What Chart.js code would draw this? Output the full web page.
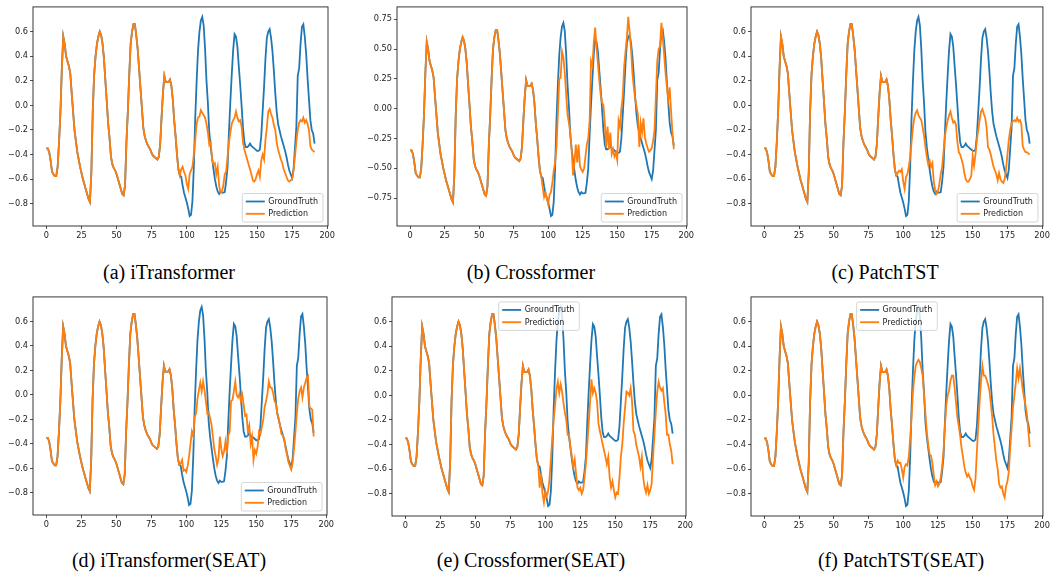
<!DOCTYPE html>
<html>
<head>
<meta charset="utf-8">
<script src="https://cdn.jsdelivr.net/npm/chart.js@4.4.0/dist/chart.umd.min.js"></script>
<style>
  body { margin: 0; background: #fff; width: 1052px; height: 578px; overflow: hidden; position: relative; }
  canvas { position: absolute; }
  .cap { position: absolute; font-family: "Liberation Serif", "Times New Roman", serif; font-size: 20px;
         line-height: 20px; color: #000; white-space: nowrap; transform: translateX(-50%); }
</style>
</head>
<body>
<script>
// shared look-back window (steps 0..95), identical for both lines
const history = [
  -0.35, -0.35, -0.38, -0.45, -0.54, -0.56, -0.575, -0.575, -0.5, -0.3,
  -0.05, 0.3, 0.56, 0.5, 0.4, 0.36, 0.32, 0.26, 0.1, -0.05,
  -0.2, -0.29, -0.38, -0.44, -0.5, -0.55, -0.6, -0.64, -0.68, -0.72,
  -0.76, -0.785, -0.55, -0.05, 0.25, 0.4, 0.5, 0.56, 0.6, 0.57,
  0.5, 0.38, 0.2, 0.03, -0.15, -0.27, -0.42, -0.48, -0.51, -0.53,
  -0.56, -0.6, -0.64, -0.68, -0.72, -0.73, -0.65, -0.3, -0.05, 0.25,
  0.5, 0.6, 0.66, 0.66, 0.57, 0.46, 0.3, 0.14, -0.02, -0.18,
  -0.25, -0.29, -0.32, -0.34, -0.36, -0.39, -0.41, -0.42, -0.43, -0.44,
  -0.42, -0.32, -0.1, 0.1, 0.24, 0.19, 0.19, 0.19, 0.21, 0.16,
  0.05, -0.12, -0.25, -0.4, -0.52, -0.57
];

// forecast horizon (steps 96..191)
const truthFuture = [
  -0.58, -0.65, -0.71, -0.75, -0.79, -0.84, -0.9, -0.89, -0.78, -0.5,
  -0.1, 0.2, 0.45, 0.6, 0.69, 0.72, 0.65, 0.46, 0.2, 0.02,
  -0.22, -0.34, -0.43, -0.52, -0.6, -0.66, -0.7, -0.72, -0.7, -0.71,
  -0.71, -0.705, -0.62, -0.5, -0.22, 0.03, 0.25, 0.45, 0.58, 0.56,
  0.48, 0.32, 0.17, 0.0, -0.18, -0.3, -0.34, -0.34, -0.33, -0.31,
  -0.33, -0.34, -0.35, -0.36, -0.37, -0.37, -0.36, -0.25, -0.05, 0.15,
  0.38, 0.55, 0.6, 0.62, 0.55, 0.44, 0.28, 0.1, -0.05, -0.15,
  -0.2, -0.25, -0.29, -0.33, -0.37, -0.42, -0.48, -0.53, -0.56, -0.59,
  -0.52, -0.35, -0.18, 0.24, 0.3, 0.5, 0.64, 0.66, 0.56, 0.42,
  0.22, 0.05, -0.12, -0.2, -0.23, -0.31
];

const predITrans = [
  -0.52, -0.5, -0.54, -0.57, -0.64, -0.68, -0.56, -0.53, -0.5, -0.4,
  -0.28, -0.15, -0.1, -0.09, -0.04, -0.06, -0.08, -0.1, -0.15, -0.22,
  -0.32, -0.3, -0.44, -0.48, -0.47, -0.56, -0.5, -0.65, -0.71, -0.7,
  -0.65, -0.56, -0.54, -0.42, -0.3, -0.22, -0.15, -0.12, -0.1, -0.05,
  -0.1, -0.13, -0.12, -0.17, -0.3, -0.36, -0.4, -0.44, -0.48, -0.52,
  -0.56, -0.61, -0.62, -0.6, -0.56, -0.53, -0.58, -0.45, -0.4, -0.44,
  -0.28, -0.18, -0.05, -0.03, -0.07, -0.1, -0.16, -0.2, -0.3, -0.36,
  -0.4, -0.44, -0.47, -0.52, -0.55, -0.58, -0.61, -0.62, -0.61, -0.6,
  -0.53, -0.42, -0.3, -0.2, -0.14, -0.12, -0.13, -0.1, -0.14, -0.12,
  -0.15, -0.2, -0.33, -0.36, -0.37, -0.38
];

const predCross = [
  -0.66, -0.74, -0.7, -0.75, -0.8, -0.72, -0.7, -0.62, -0.52, -0.45,
  -0.32, -0.05, 0.25, 0.26, 0.48, 0.43, 0.3, 0.12, -0.05, -0.12,
  -0.2, -0.35, -0.56, -0.45, -0.3, -0.45, -0.3, -0.48, -0.51, -0.53,
  -0.5, -0.4, -0.3, -0.25, -0.1, 0.4, 0.36, 0.55, 0.68, 0.52,
  0.38, 0.24, 0.12, 0.05, 0.03, -0.12, -0.32, -0.15, -0.34, -0.2,
  -0.38, -0.34, -0.4, -0.37, -0.43, -0.1, -0.15, 0.0, 0.1, 0.35,
  0.48, 0.6, 0.77, 0.64, 0.5, 0.3, 0.18, 0.08, 0.02, -0.05,
  -0.32, -0.12, -0.2, -0.08, -0.24, -0.29, -0.33, -0.36, -0.35, -0.33,
  -0.27, -0.18, 0.1, 0.4, 0.5, 0.52, 0.72, 0.6, 0.45, 0.3,
  0.18, 0.08, 0.18, -0.02, -0.2, -0.34
];

const predPatch = [
  -0.55, -0.53, -0.54, -0.52, -0.62, -0.68, -0.58, -0.56, -0.5, -0.42,
  -0.3, -0.18, -0.1, -0.06, -0.04, -0.08, -0.1, -0.12, -0.18, -0.25,
  -0.34, -0.42, -0.48, -0.45, -0.5, -0.47, -0.62, -0.69, -0.72, -0.7,
  -0.64, -0.56, -0.5, -0.38, -0.25, -0.18, -0.12, -0.08, -0.05, -0.1,
  -0.14, -0.13, -0.16, -0.3, -0.38, -0.4, -0.44, -0.48, -0.55, -0.6,
  -0.62, -0.62, -0.6, -0.57, -0.41, -0.49, -0.4, -0.28, -0.2, -0.12,
  -0.05, -0.03, -0.07, -0.1, -0.18, -0.34, -0.36, -0.4, -0.45, -0.5,
  -0.53, -0.56, -0.61, -0.55, -0.6, -0.62, -0.63, -0.6, -0.52, -0.4,
  -0.28, -0.2, -0.14, -0.13, -0.12, -0.13, -0.1, -0.13, -0.12, -0.15,
  -0.33, -0.36, -0.38, -0.38, -0.39, -0.4
];

const predITransSEAT = [
  -0.56, -0.53, -0.62, -0.61, -0.63, -0.58, -0.5, -0.4, -0.3, -0.34,
  -0.18, -0.15, -0.03, 0.04, 0.1, 0.03, 0.11, 0.04, -0.05, -0.15,
  -0.14, -0.19, -0.24, -0.34, -0.44, -0.5, -0.57, -0.52, -0.34, -0.44,
  -0.5, -0.46, -0.38, -0.48, -0.33, -0.3, -0.05, -0.04, 0.03, 0.11,
  0.0, -0.02, 0.01, -0.05, 0.0, -0.08, -0.17, -0.16, -0.3, -0.25,
  -0.4, -0.34, -0.53, -0.45, -0.48, -0.42, -0.3, -0.32, -0.26, -0.2,
  -0.1, -0.05, 0.01, 0.11, 0.06, 0.06, 0.02, -0.05, -0.07, -0.15,
  -0.19, -0.25, -0.32, -0.33, -0.36, -0.44, -0.49, -0.55, -0.58, -0.61,
  -0.55, -0.44, -0.3, -0.15, -0.03, 0.03, 0.06, -0.02, 0.06, 0.1,
  0.14, 0.155, -0.1, -0.11, -0.12, -0.34
];

const predCrossSEAT = [
  -0.75, -0.63, -0.8, -0.87, -0.78, -0.82, -0.78, -0.68, -0.52, -0.34,
  -0.2, -0.08, 0.05, 0.11, 0.02, 0.09, 0.03, -0.06, -0.14, -0.2,
  -0.32, -0.32, -0.42, -0.5, -0.58, -0.52, -0.64, -0.75, -0.77, -0.75,
  -0.8, -0.77, -0.67, -0.56, -0.4, -0.23, -0.06, 0.13, 0.02, 0.06,
  0.02, -0.05, -0.23, -0.29, -0.34, -0.4, -0.45, -0.5, -0.56, -0.5,
  -0.67, -0.75, -0.7, -0.77, -0.83, -0.79, -0.8, -0.67, -0.5, -0.4,
  -0.23, -0.1, 0.03, 0.02, 0.0, 0.06, -0.05, -0.29, -0.32, -0.4,
  -0.45, -0.5, -0.58, -0.5, -0.67, -0.75, -0.79, -0.73, -0.8, -0.77,
  -0.72, -0.5, -0.32, -0.13, 0.03, 0.11, 0.06, 0.04, 0.06, -0.05,
  -0.15, -0.32, -0.32, -0.4, -0.45, -0.56
];

const predPatchSEAT = [
  -0.53, -0.55, -0.55, -0.6, -0.67, -0.58, -0.56, -0.57, -0.5, -0.35,
  -0.18, 0.03, 0.15, 0.24, 0.27, 0.29, 0.27, 0.22, 0.16, 0.0,
  -0.15, -0.3, -0.4, -0.48, -0.49, -0.55, -0.65, -0.73, -0.7, -0.74,
  -0.72, -0.67, -0.58, -0.45, -0.25, -0.08, 0.0, 0.04, 0.12, 0.16,
  0.16, 0.06, -0.06, -0.18, -0.25, -0.33, -0.43, -0.5, -0.58, -0.63,
  -0.66, -0.64, -0.67, -0.69, -0.74, -0.77, -0.68, -0.46, -0.25, -0.05,
  0.12, 0.24, 0.16, 0.16, 0.13, 0.09, 0.04, -0.06, -0.17, -0.32,
  -0.42, -0.53, -0.6, -0.72, -0.75, -0.74, -0.8, -0.83, -0.74, -0.7,
  -0.62, -0.43, -0.27, -0.1, 0.0, 0.1, 0.22, 0.14, 0.22, 0.14,
  0.05, -0.02, -0.08, -0.15, -0.28, -0.42
];

const xTicks = [0, 25, 50, 75, 100, 125, 150, 175, 200];
const yTicks = [-0.8, -0.6, -0.4, -0.2, 0.0, 0.2, 0.4, 0.6];
const yTicksCross = [-0.75, -0.5, -0.25, 0.0, 0.25, 0.5, 0.75];
const captions = ['(a) iTransformer', '(b) Crossformer', '(c) PatchTST',
                  '(d) iTransformer(SEAT)', '(e) Crossformer(SEAT)', '(f) PatchTST(SEAT)'];

const BLUE = '#1f77b4', ORANGE = '#ff7f0e';
const tickFont = { family: 'DejaVu Sans', size: 8.2 };

// panel placement: canvas box and plot area, in page pixels
const panels = [
  { pred: predITrans,     yt: yTicks,      dec: 1, loc: 'lower right',  c: [0, 0, 345, 250],     a: [33, 328, 5, 226],     cap: [169, 262] },
  { pred: predCross,      yt: yTicksCross, dec: 2, loc: 'lower right',  c: [355, 0, 345, 250],   a: [397, 687, 5, 226],    cap: [531, 262] },
  { pred: predPatch,      yt: yTicks,      dec: 1, loc: 'lower right',  c: [710, 0, 342, 250],   a: [751, 1044, 5, 226],   cap: [885, 262] },
  { pred: predITransSEAT, yt: yTicks,      dec: 1, loc: 'lower right',  c: [0, 290, 345, 250],   a: [33, 327, 295, 515],   cap: [169, 550] },
  { pred: predCrossSEAT,  yt: yTicks,      dec: 1, loc: 'upper center', c: [355, 290, 345, 250], a: [392, 686, 295, 516],  cap: [531, 550] },
  { pred: predPatchSEAT,  yt: yTicks,      dec: 1, loc: 'upper center', c: [710, 290, 342, 250], a: [751, 1044, 295, 516], cap: [901, 550] }
];

// matplotlib-like box around the axes + legend inside the axes
const mplDecor = {
  id: 'mplDecor',
  afterDatasetsDraw(chart, args, opts) {
    const a = chart.chartArea, ctx = chart.ctx;
    ctx.save();
    ctx.strokeStyle = '#222';
    ctx.lineWidth = 0.9;
    ctx.strokeRect(a.left, a.top, a.right - a.left, a.bottom - a.top);

    ctx.font = '8px "DejaVu Sans"';
    const items = [['GroundTruth', BLUE], ['Prediction', ORANGE]];
    const tw = Math.max(...items.map(it => ctx.measureText(it[0]).width));
    const w = 26 + tw + 5, h = 28.5;
    let x0, y0;
    if (opts.loc === 'upper center') { x0 = (a.left + a.right) / 2 - w / 2; y0 = a.top + 5; }
    else { x0 = a.right - 5 - w; y0 = a.bottom - 4 - h; }
    ctx.fillStyle = 'rgba(255,255,255,0.8)';
    ctx.strokeStyle = '#cccccc';
    ctx.lineWidth = 0.8;
    ctx.beginPath();
    ctx.roundRect(x0, y0, w, h, 2);
    ctx.fill();
    ctx.stroke();
    items.forEach((it, i) => {
      const yy = y0 + 8 + i * 12.3;
      ctx.strokeStyle = it[1];
      ctx.lineWidth = 1.8;
      ctx.beginPath();
      ctx.moveTo(x0 + 3.5, yy);
      ctx.lineTo(x0 + 22.5, yy);
      ctx.stroke();
      ctx.fillStyle = '#222';
      ctx.textBaseline = 'middle';
      ctx.fillText(it[0], x0 + 26, yy + 0.5);
    });
    ctx.restore();
  }
};

const points = vals => vals.map((v, i) => ({ x: i, y: v }));

panels.forEach((p, k) => {
  const [cl, ct, cw, ch] = p.c;
  const [al, ar, at, ab] = p.a;
  const canvas = document.createElement('canvas');
  canvas.width = cw; canvas.height = ch;
  canvas.style.left = cl + 'px'; canvas.style.top = ct + 'px';
  document.body.appendChild(canvas);

  const truth = history.concat(truthFuture);
  const pred = history.concat(p.pred);
  const all = truth.concat(pred);
  const lo = Math.min(...all), hi = Math.max(...all), pad = (hi - lo) * 0.05;
  const n = truth.length - 1, xpad = n * 0.05;

  new Chart(canvas, {
    type: 'line',
    data: {
      datasets: [
        { label: 'GroundTruth', data: points(truth), borderColor: BLUE, order: 2 },
        { label: 'Prediction', data: points(pred), borderColor: ORANGE, order: 1 }
      ]
    },
    options: {
      responsive: false,
      animation: false,
      devicePixelRatio: 1,
      datasets: { line: { borderWidth: 1.8, pointRadius: 0, tension: 0, fill: false } },
      layout: { padding: { left: 0, top: at - ct, right: cl + cw - ar, bottom: 0 } },
      plugins: { legend: { display: false }, tooltip: { enabled: false }, mplDecor: { loc: p.loc } },
      scales: {
        x: {
          type: 'linear', min: -xpad, max: n + xpad,
          afterBuildTicks: s => { s.ticks = xTicks.map(v => ({ value: v })); },
          afterFit: s => { s.height = ct + ch - ab; },
          grid: { drawOnChartArea: false, tickLength: 3, color: '#222', lineWidth: 0.8 },
          border: { display: false },
          ticks: { font: tickFont, color: '#222', padding: 2, autoSkip: false, maxRotation: 0,
                   callback: v => String(v) }
        },
        y: {
          type: 'linear', min: lo - pad, max: hi + pad,
          afterBuildTicks: s => { s.ticks = p.yt.map(v => ({ value: v })); },
          afterFit: s => { s.width = al - cl; },
          grid: { drawOnChartArea: false, tickLength: 3, color: '#222', lineWidth: 0.8 },
          border: { display: false },
          ticks: { font: tickFont, color: '#222', padding: 2, autoSkip: false,
                   callback: v => v.toFixed(p.dec).replace('-', '\u2212') }
        }
      }
    },
    plugins: [mplDecor]
  });

  const cap = document.createElement('div');
  cap.className = 'cap';
  cap.textContent = captions[k];
  cap.style.left = p.cap[0] + 'px';
  cap.style.top = p.cap[1] + 'px';
  document.body.appendChild(cap);
});
</script>
</body>
</html>
